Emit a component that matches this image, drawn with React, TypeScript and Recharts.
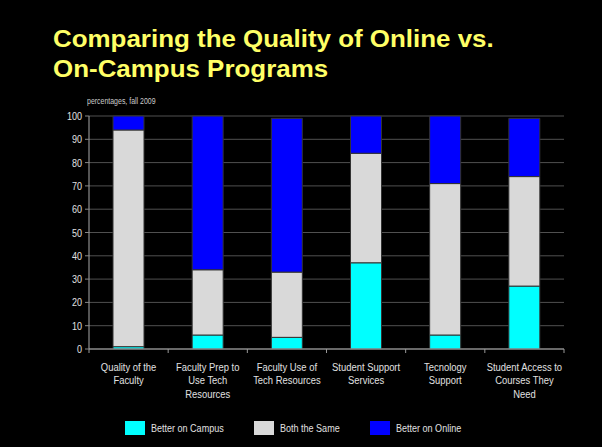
import React from "react";
import { BarChart, Bar, XAxis, YAxis, CartesianGrid } from "recharts";

const categories = [
  "Quality of the\nFaculty",
  "Faculty Prep to\nUse Tech\nResources",
  "Faculty Use of\nTech Resources",
  "Student Support\nServices",
  "Tecnology\nSupport",
  "Student Access to\nCourses They\nNeed",
];

const betterOnCampus = [1, 6, 5, 37, 6, 27];
const bothTheSame = [93, 28, 28, 47, 65, 47];
const betterOnline = [6, 66, 66, 16, 29, 25];

const yTicks = [0, 10, 20, 30, 40, 50, 60, 70, 80, 90, 100];

const series = [
  { key: "campus", name: "Better on Campus", color: "#00ffff" },
  { key: "same", name: "Both the Same", color: "#d9d9d9" },
  { key: "online", name: "Better on Online", color: "#0000ff" },
];

const data = categories.map((c, i) => ({
  category: c,
  campus: betterOnCampus[i],
  same: bothTheSame[i],
  online: betterOnline[i],
}));

const W = 602;
const H = 447;
const LEFT = 89;
const RIGHT = 38;
const TOP = 116;
const XAXIS_H = 98;
const catWidth = (W - LEFT - RIGHT) / categories.length;

const font = "'Liberation Sans', Arial, sans-serif";
const NARROW = 0.82;

const CategoryTick = (props: any) => {
  const { x, y, payload, index } = props;
  const lines = String(payload.value).split("\n");
  return (
    <g>
      <line x1={x - catWidth / 2} x2={x - catWidth / 2} y1={y - 8} y2={y - 4} stroke="#999" />
      {index === categories.length - 1 && (
        <line x1={x + catWidth / 2} x2={x + catWidth / 2} y1={y - 8} y2={y - 4} stroke="#999" />
      )}
      <g transform={`translate(${x},${y + 14}) scale(${NARROW},1)`}>
        <text x={0} y={0} textAnchor="middle" fill="#e0e0e0" fontSize={11.5} fontFamily={font}>
          {lines.map((l, i) => (
            <tspan key={i} x={0} dy={i === 0 ? 0 : 13.5}>
              {l}
            </tspan>
          ))}
        </text>
      </g>
    </g>
  );
};

const ValueTick = (props: any) => {
  const { x, y, payload } = props;
  return (
    <g transform={`translate(${x - 1},${y + 4}) scale(${NARROW},1)`}>
      <text x={0} y={0} textAnchor="end" fill="#e0e0e0" fontSize={11} fontFamily={font}>
        {payload.value}
      </text>
    </g>
  );
};

export default function App() {
  return (
    <div style={{ position: "fixed", left: 0, top: 0, width: W, height: H, background: "#000", overflow: "hidden" }}>
      <div
        style={{
          position: "absolute",
          left: 53,
          top: 24,
          color: "#ffff66",
          fontFamily: font,
          fontWeight: "bold",
          fontSize: 24,
          lineHeight: "29.5px",
          whiteSpace: "nowrap",
          transform: "scaleX(1.08)",
          transformOrigin: "left top",
        }}
      >
        Comparing the Quality of Online vs.
        <br />
        On-Campus Programs
      </div>
      <div
        style={{
          position: "absolute",
          left: 87,
          top: 96,
          color: "#cccccc",
          fontFamily: font,
          fontSize: 8.5,
          whiteSpace: "nowrap",
          transform: `scaleX(${NARROW})`,
          transformOrigin: "left top",
        }}
      >
        percentages, fall 2009
      </div>
      <div style={{ position: "absolute", left: 0, top: 0 }}>
        <BarChart
          width={W}
          height={H}
          data={data}
          margin={{ top: TOP, right: RIGHT, left: 0, bottom: 0 }}
          barSize={31}
        >
          <CartesianGrid vertical={false} stroke="#505050" />
          <XAxis
            dataKey="category"
            height={XAXIS_H}
            interval={0}
            tickLine={false}
            axisLine={{ stroke: "#aaaaaa" }}
            tick={<CategoryTick />}
          />
          <YAxis
            width={LEFT}
            domain={[0, 100]}
            ticks={yTicks}
            interval={0}
            axisLine={{ stroke: "#aaaaaa" }}
            tickLine={{ stroke: "#888888" }}
            tickSize={4}
            tick={<ValueTick />}
          />
          {series.map((s) => (
            <Bar
              key={s.key}
              dataKey={s.key}
              name={s.name}
              stackId="a"
              fill={s.color}
              stroke="#333333"
              strokeWidth={1}
              isAnimationActive={false}
            />
          ))}
        </BarChart>
      </div>
      {series.map((s, i) => (
        <div
          key={s.key}
          style={{
            position: "absolute",
            left: [125, 254, 370][i],
            top: 421,
            height: 14,
            display: "flex",
            alignItems: "center",
            fontFamily: font,
            fontSize: 11,
            color: "#e0e0e0",
            whiteSpace: "nowrap",
          }}
        >
          <span style={{ display: "inline-block", width: 20, height: 14, background: s.color, marginRight: 6 }} />
          <span style={{ display: "inline-block", transform: `scaleX(${NARROW})`, transformOrigin: "left center" }}>
            {s.name}
          </span>
        </div>
      ))}
    </div>
  );
}
